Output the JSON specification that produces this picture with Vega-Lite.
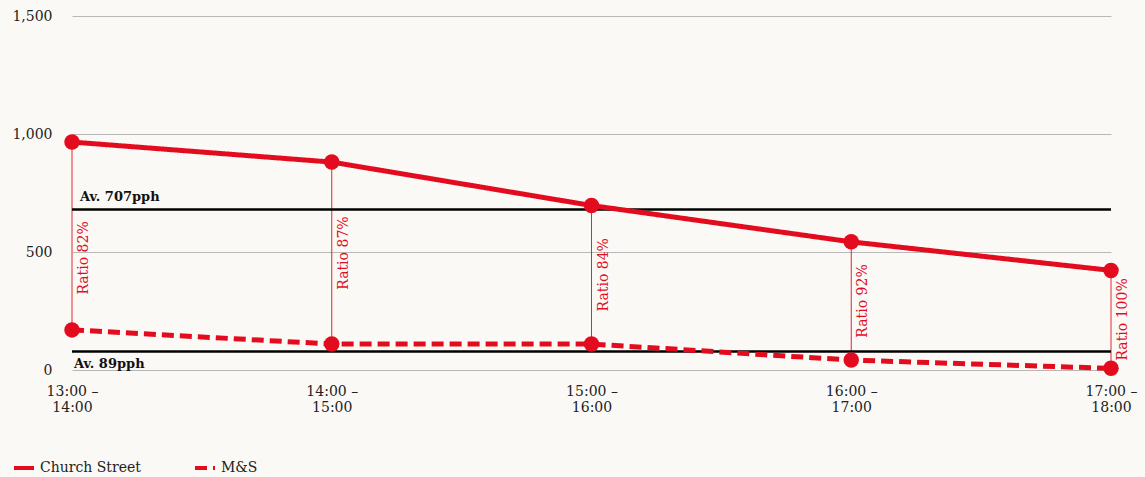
{
  "$schema": "https://vega.github.io/schema/vega-lite/v6.json",
  "width": 1039,
  "height": 354,
  "autosize": {"type": "none"},
  "padding": {"left": 72, "top": 16, "right": 34, "bottom": 107},
  "background": "#faf9f6",
  "config": {
    "view": {"stroke": null},
    "font": "DejaVu Serif",
    "axis": {"labelFont": "DejaVu Serif", "labelFontSize": 14, "labelColor": "#222222"}
  },
  "datasets": {
    "slots": [
      {"slot": "13:00 – 14:00", "Church Street": 966, "M&S": 170, "ratio": "Ratio 82%"},
      {"slot": "14:00 – 15:00", "Church Street": 881, "M&S": 110, "ratio": "Ratio 87%"},
      {"slot": "15:00 – 16:00", "Church Street": 697, "M&S": 110, "ratio": "Ratio 84%"},
      {"slot": "16:00 – 17:00", "Church Street": 543, "M&S": 42, "ratio": "Ratio 92%"},
      {"slot": "17:00 – 18:00", "Church Street": 422, "M&S": 7, "ratio": "Ratio 100%"}
    ],
    "avgs": [
      {"value": 680, "label": "Av. 707pph", "which": "top"},
      {"value": 78, "label": "Av. 89pph", "which": "bottom"}
    ]
  },
  "encoding": {
    "x": {
      "field": "slot", "type": "ordinal", "sort": null,
      "scale": {"type": "point", "padding": 0},
      "axis": {
        "title": null, "domain": false, "ticks": false, "grid": false,
        "labelAngle": 0, "labelPadding": 14, "labelLineHeight": 16,
        "labelExpr": "[substring(datum.label, 0, 7), substring(datum.label, 8)]"
      }
    }
  },
  "layer": [
    {
      "data": {"name": "slots"},
      "mark": {"type": "rule", "color": "#e30c1e", "strokeWidth": 1, "opacity": 0.9},
      "encoding": {
        "y": {
          "field": "M&S", "type": "quantitative",
          "scale": {"domain": [0, 1500], "nice": false},
          "axis": {
            "title": null, "values": [0, 500, 1000, 1500], "format": ",d",
            "domain": false, "ticks": false, "labelPadding": 20,
            "gridColor": "#b8b8b8", "gridWidth": 1
          }
        },
        "y2": {"field": "Church Street"}
      }
    },
    {
      "data": {"name": "avgs"},
      "mark": {"type": "rule", "color": "#000000", "strokeWidth": 2.5},
      "encoding": {
        "x": null,
        "y": {"field": "value", "type": "quantitative"}
      }
    },
    {
      "data": {"name": "slots"},
      "transform": [{"fold": ["Church Street", "M&S"], "as": ["series", "val"]}],
      "mark": {"type": "line", "color": "#e30c1e", "strokeWidth": 5},
      "encoding": {
        "y": {"field": "val", "type": "quantitative"},
        "strokeDash": {
          "field": "series", "type": "nominal",
          "scale": {"domain": ["Church Street", "M&S"], "range": [[1, 0], [12, 6]]},
          "legend": {
            "title": null, "orient": "none", "direction": "horizontal",
            "legendX": -60, "legendY": 440,
            "symbolType": "stroke", "symbolStrokeColor": "#e30c1e",
            "symbolStrokeWidth": 4, "symbolSize": 400,
            "labelFont": "DejaVu Serif", "labelFontSize": 14, "labelColor": "#222222",
            "labelOffset": 4, "columnPadding": 46
          }
        }
      }
    },
    {
      "data": {"name": "slots"},
      "transform": [{"fold": ["Church Street", "M&S"], "as": ["series", "val"]}],
      "mark": {"type": "circle", "color": "#e30c1e", "opacity": 1, "size": 240},
      "encoding": {
        "y": {"field": "val", "type": "quantitative"}
      }
    },
    {
      "data": {"name": "slots"},
      "transform": [
        {"filter": "datum.slot !== '13:00 – 14:00'"},
        {"calculate": "(datum['Church Street'] + datum['M&S']) / 2", "as": "mid"}
      ],
      "mark": {"type": "text", "color": "#e30c1e", "fontSize": 14, "angle": 270, "align": "center", "baseline": "top", "dy": 5},
      "encoding": {
        "y": {"field": "mid", "type": "quantitative"},
        "text": {"field": "ratio"}
      }
    },
    {
      "data": {"name": "slots"},
      "transform": [
        {"filter": "datum.slot === '13:00 – 14:00'"},
        {"calculate": "(datum['Church Street'] + datum['M&S']) / 2", "as": "mid"}
      ],
      "mark": {"type": "text", "color": "#e30c1e", "fontSize": 14, "angle": 270, "align": "center", "baseline": "top", "dy": 5, "dx": -22},
      "encoding": {
        "y": {"field": "mid", "type": "quantitative"},
        "text": {"field": "ratio"}
      }
    },
    {
      "data": {"name": "avgs"},
      "transform": [{"filter": "datum.which === 'top'"}],
      "mark": {"type": "text", "color": "#111111", "fontSize": 13, "fontWeight": "bold", "align": "left", "baseline": "bottom", "dx": 8, "dy": -6},
      "encoding": {
        "x": {"datum": "13:00 – 14:00"},
        "y": {"field": "value", "type": "quantitative"},
        "text": {"field": "label"}
      }
    },
    {
      "data": {"name": "avgs"},
      "transform": [{"filter": "datum.which === 'bottom'"}],
      "mark": {"type": "text", "color": "#111111", "fontSize": 13, "fontWeight": "bold", "align": "left", "baseline": "top", "dx": 2, "dy": 6},
      "encoding": {
        "x": {"datum": "13:00 – 14:00"},
        "y": {"field": "value", "type": "quantitative"},
        "text": {"field": "label"}
      }
    }
  ]
}
